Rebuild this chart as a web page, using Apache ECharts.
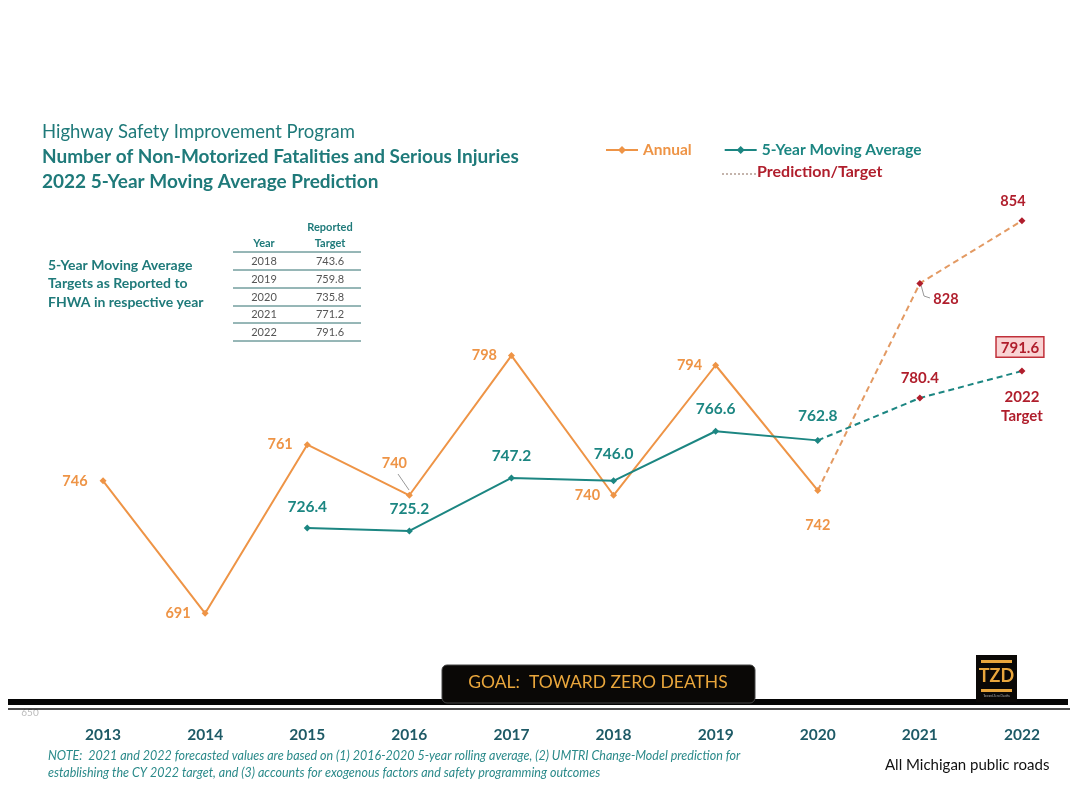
<!DOCTYPE html>
<html><head><meta charset="utf-8">
<script src="https://cdn.jsdelivr.net/npm/echarts@6/dist/echarts.min.js"></script>
<style>html,body{margin:0;padding:0;background:#fff}#c{width:1076px;height:785px}</style>
</head><body><div id="c"></div>
<script>
const years = ['2013','2014','2015','2016','2017','2018','2019','2020','2021','2022'];
const annual = [746, 691, 761, 740, 798, 740, 794, 742, null, null];
const annualPrediction = [null, null, null, null, null, null, null, 742, 828, 854];
const movingAvg = [null, null, 726.4, 725.2, 747.2, 746.0, 766.6, 762.8, null, null];
const movingAvgPrediction = [null, null, null, null, null, null, null, 762.8, 780.4, 791.6];
const tableYears = ['2018','2019','2020','2021','2022'];
const tableTargets = ['743.6','759.8','735.8','771.2','791.6'];
const yMin = 650, yMax = 900;

const ORANGE = '#EE9446', TEAL = '#1C8682', TITLE = '#1F7A7A', RED = '#B01E2C';
const FONT = 'Lato, "Open Sans", sans-serif';

// label placement per point (style only)
const annualLabelPos = [
  {position:'left', distance:12, offset:[0,0]}, {position:'left', distance:11, offset:[0,0]}, {position:'left', distance:11, offset:[0,0]},
  {position:'top', offset:[-15,-16]}, {position:'left', distance:11, offset:[0,0]}, {position:'left', distance:10, offset:[0,0]},
  {position:'left', distance:10, offset:[0,0]}, {position:'bottom', offset:[0,19]}
];
const annualPredPos = [null, {position:'right', offset:[5,16]}, {position:'top', offset:[-9,-3]}];
const maLabelOffset = [0,0,-5,-5,-5,-10,-6,-8];

const chart = echarts.init(document.getElementById('c'));

const annualData = annual.map((v,i) => v == null ? null : {
  value: v,
  label: Object.assign({show:true}, annualLabelPos[i])
});
const annualPredData = annualPrediction.map((v,i) => {
  if (v == null) return null;
  const k = i - 7;
  const p = annualPredPos[k];
  return {
    value: v,
    symbol: k === 0 ? 'none' : 'diamond',
    label: p ? Object.assign({show:true, color: RED}, p) : {show:false}
  };
});
const maData = movingAvg.map((v,i) => v == null ? null : {
  value: v,
  label: {show:true, position:'top', offset:[0, maLabelOffset[i]], formatter: () => v.toFixed(1)}
});
const maPredData = movingAvgPrediction.map((v,i) => {
  if (v == null) return null;
  const k = i - 7;
  if (k === 0) return {value: v, symbol:'none', label:{show:false}};
  if (k === 1) return {value: v, label:{show:true, position:'top', offset:[0,-4], formatter: () => v.toFixed(1)}};
  return {value: v, label:{show:true, position:'top', offset:[-2,-6], formatter: () => v.toFixed(1),
    backgroundColor:'#F9D3D3', borderColor:'#C0303A', borderWidth:1.5, padding:[3,4,1,4]}};
});

// table graphics
const tbl = [];
const tx0 = 233, tx1 = 361, colYear = 264, colTgt = 330;
tbl.push({type:'text', x:colTgt, y:227, style:{text:'Reported', fill:TITLE, font:'bold 11px '+FONT, textAlign:'center', textVerticalAlign:'middle'}});
tbl.push({type:'text', x:colTgt, y:243, style:{text:'Target', fill:TITLE, font:'bold 11px '+FONT, textAlign:'center', textVerticalAlign:'middle'}});
tbl.push({type:'text', x:colYear, y:243, style:{text:'Year', fill:TITLE, font:'bold 11px '+FONT, textAlign:'center', textVerticalAlign:'middle'}});
const rowTop = [252, 270, 288, 306, 323, 341];
rowTop.forEach(y => tbl.push({type:'line', shape:{x1:tx0,y1:y,x2:tx1,y2:y}, style:{stroke:'#2E6E6E', lineWidth:1}}));
tableYears.forEach((y,i) => {
  const cy = (rowTop[i] + rowTop[i+1]) / 2;
  tbl.push({type:'text', x:colYear, y:cy, style:{text:y, fill:'#555', font:'11px '+FONT, textAlign:'center', textVerticalAlign:'middle'}});
  tbl.push({type:'text', x:colTgt, y:cy, style:{text:tableTargets[i], fill:'#555', font:'11px '+FONT, textAlign:'center', textVerticalAlign:'middle'}});
});

const option = {
  backgroundColor:'#fff',
  animation:false,
  textStyle:{fontFamily:FONT},
  grid:{left:52, right:3, top:110, bottom:73},
  xAxis:{type:'category', data:years, boundaryGap:true,
    axisLine:{show:false}, axisTick:{show:false},
    axisLabel:{margin:15, color:'#1E5A66', fontWeight:'bold', fontSize:15.5, fontFamily:FONT}},
  yAxis:{type:'value', min:yMin, max:yMax, show:false, splitLine:{show:false}},
  legend:{left:600, top:137, itemWidth:32, itemHeight:10, itemGap:32,
    data:[{name:'Annual', textStyle:{color:ORANGE}}, {name:'5-Year Moving Average', textStyle:{color:TEAL}}],
    textStyle:{fontWeight:'bold', fontSize:15.5, fontFamily:FONT}},
  series:[
    {name:'Annual', type:'line', data:annualData, connectNulls:false,
      symbol:'diamond', symbolSize:7, lineStyle:{color:ORANGE, width:2}, itemStyle:{color:ORANGE},
      label:{color:ORANGE, fontSize:14.5, fontWeight:'bold', fontFamily:FONT}, z:3},
    {name:'Annual prediction', type:'line', data:annualPredData,
      symbol:'diamond', symbolSize:7, lineStyle:{color:'#E39A63', width:2, type:[6,4]}, itemStyle:{color:RED},
      label:{color:RED, fontSize:14.5, fontWeight:'bold', fontFamily:FONT}, z:3},
    {name:'5-Year Moving Average', type:'line', data:maData,
      symbol:'diamond', symbolSize:7, lineStyle:{color:TEAL, width:2}, itemStyle:{color:TEAL},
      label:{color:TEAL, fontSize:15.5, fontWeight:'bold', fontFamily:FONT}, z:3},
    {name:'Moving average prediction', type:'line', data:maPredData,
      symbol:'diamond', symbolSize:7, lineStyle:{color:TEAL, width:2, type:[6,4]}, itemStyle:{color:RED},
      label:{color:RED, fontSize:15, fontWeight:'bold', fontFamily:FONT}, z:3}
  ],
  graphic:[
    {type:'text', left:42, top:123, style:{text:'Highway Safety Improvement Program', fill:TITLE, font:'18.5px '+FONT}},
    {type:'text', left:42, top:147, style:{text:'Number of Non-Motorized Fatalities and Serious Injuries', fill:TITLE, font:'bold 19px '+FONT}},
    {type:'text', left:42, top:172, style:{text:'2022 5-Year Moving Average Prediction', fill:TITLE, font:'bold 19px '+FONT}},
    {type:'line', shape:{x1:722,y1:174,x2:756,y2:174}, style:{stroke:'#8a6a5a', lineWidth:1, lineDash:[2,2]}},
    {type:'text', left:757, top:164, style:{text:'Prediction/Target', fill:RED, font:'bold 16px '+FONT}},
    {type:'text', left:48, top:256, style:{text:'5-Year Moving Average\nTargets as Reported to\nFHWA in respective year', fill:TITLE, font:'bold 14px '+FONT, lineHeight:18.5}},
    ...tbl,
    {type:'text', x:1022, y:388, style:{text:'2022\nTarget', fill:RED, font:'bold 15px '+FONT, textAlign:'center', lineHeight:19}},
    {type:'line', shape:{x1:398,y1:474,x2:409,y2:490}, style:{stroke:'#999', lineWidth:1}},
    {type:'line', shape:{x1:921,y1:285,x2:924,y2:296}, style:{stroke:'#999', lineWidth:1}},
    {type:'line', shape:{x1:924,y1:296,x2:930,y2:298}, style:{stroke:'#999', lineWidth:1}},
    {type:'text', x:30, y:713, z:1, style:{text:'650', fill:'#bbb', font:'10px '+FONT, textAlign:'center', textVerticalAlign:'middle'}},
    {type:'rect', z:5, shape:{x:8, y:699, width:1060, height:6}, style:{fill:'#050505'}},
    {type:'line', z:5, shape:{x1:8,y1:709,x2:1070,y2:709}, style:{stroke:'#111', lineWidth:1.5}},
    {type:'rect', z:6, shape:{x:442, y:665, width:313, height:38, r:5}, style:{fill:'#0a0806', stroke:'#444', lineWidth:1}},
    {type:'text', z:7, x:598, y:682, style:{text:'GOAL:  TOWARD ZERO DEATHS', fill:'#E9A63C', font:'17.5px '+FONT, textAlign:'center', textVerticalAlign:'middle'}},
    {type:'rect', z:6, shape:{x:976, y:655, width:41, height:47}, style:{fill:'#0a0806'}},
    {type:'rect', z:7, shape:{x:981, y:660, width:31, height:3}, style:{fill:'#E9A63C'}},
    {type:'rect', z:7, shape:{x:981, y:689, width:31, height:3}, style:{fill:'#E9A63C'}},
    {type:'text', z:7, x:996.5, y:676, style:{text:'TZD', fill:'#E9A63C', font:'bold 18px "Liberation Sans Narrow", '+FONT, textAlign:'center', textVerticalAlign:'middle'}},
    {type:'text', z:7, x:996.5, y:696, style:{text:'Toward Zero Deaths', fill:'#aaa', font:'3px '+FONT, textAlign:'center', textVerticalAlign:'middle'}},
    {type:'text', left:48, top:747, style:{text:'NOTE:  2021 and 2022 forecasted values are based on (1) 2016-2020 5-year rolling average, (2) UMTRI Change-Model prediction for\nestablishing the CY 2022 target, and (3) accounts for exogenous factors and safety programming outcomes', fill:'#2B8A8A', font:'italic 12.5px '+FONT, lineHeight:17}},
    {type:'text', left:885, top:758, style:{text:'All Michigan public roads', fill:'#111', font:'15px '+FONT}}
  ]
};
chart.setOption(option);
</script>
</body></html>
